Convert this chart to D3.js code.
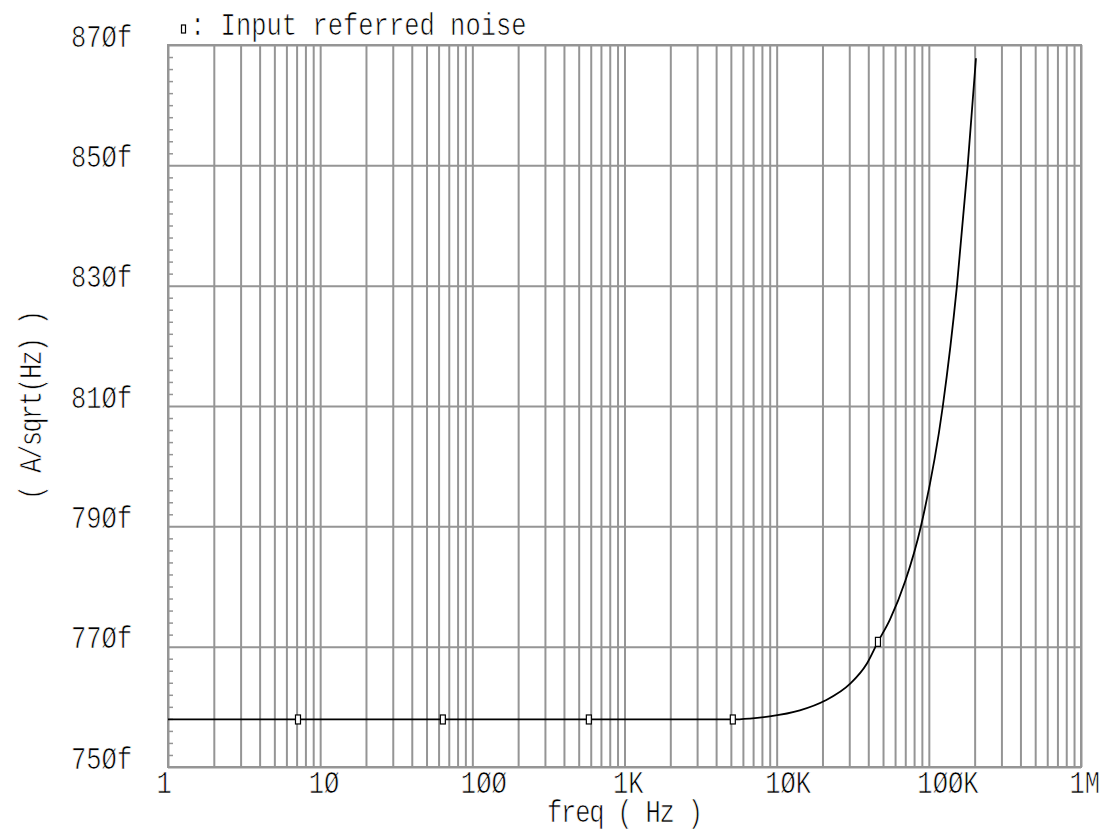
<!DOCTYPE html>
<html>
<head>
<meta charset="utf-8">
<script src="https://cdn.jsdelivr.net/npm/d3@7"></script>
<style>
  body { margin: 0; background: #fff; }
  text {
    font-family: "Liberation Mono", "DejaVu Sans Mono", monospace;
    font-size: 25.5px;
    fill: #000;
    stroke: #fff;
    stroke-width: 0.6px;
  }
</style>
</head>
<body>
<div id="chart"></div>
<script>
// input referred noise sweep, frequency in Hz, noise in fA/sqrt(Hz)
const freqHz = [1, 7.15, 64, 583, 5150, 6670, 9000, 14200, 20700, 30300, 39200, 46300, 55500, 70000, 88500, 123600, 152800, 180000, 204000];
const noiseFA = [757.9, 757.9, 757.9, 757.9, 757.9, 758.05, 758.4, 759.4, 761.0, 763.8, 767.2, 770.8, 774.5, 780.9, 789.9, 810.0, 829.8, 849.9, 867.8];
// which sweep points carry the series marker
const markerIdx = [1, 2, 3, 4, 11];

const xTicks = [1, 10, 100, 1e3, 1e4, 1e5, 1e6];
const xTickLabels = ["1", "1Ø", "1ØØ", "1K", "1ØK", "1ØØK", "1M"];
const yTicks = [750, 770, 790, 810, 830, 850, 870];
const yTickLabels = ["75Øf", "77Øf", "79Øf", "81Øf", "83Øf", "85Øf", "87Øf"];

const W = 1106, H = 833;
const margin = { top: 45, right: 25, bottom: 66, left: 168 };
const width = W - margin.left - margin.right;
const height = H - margin.top - margin.bottom;
const gridColor = "#959595";
const tall = 1.22;   // the plot font is drawn narrow and tall

const svg = d3.select("#chart").append("svg")
  .attr("width", W)
  .attr("height", H);

svg.append("rect").attr("width", W).attr("height", H).attr("fill", "#fff");

const g = svg.append("g")
  .attr("transform", "translate(" + margin.left + "," + margin.top + ")");

const x = d3.scaleLog().domain([1, 1e6]).range([0, width]);
const y = d3.scaleLinear().domain([750, 870]).range([height, 0]);

// vertical grid: 1..9 in every decade
const xGrid = [];
for (let dec = 0; dec < 6; dec++) {
  for (let k = 1; k <= 9; k++) xGrid.push(k * Math.pow(10, dec));
}
xGrid.push(1e6);

g.append("g")
  .attr("transform", "translate(0," + height + ")")
  .call(d3.axisBottom(x).tickValues(xGrid).tickSize(-height).tickFormat(""))
  .call(s => s.select(".domain").remove())
  .selectAll("line")
  .attr("stroke", gridColor)
  .attr("stroke-width", 2);

g.append("g")
  .call(d3.axisLeft(y).tickValues(yTicks).tickSize(-width).tickFormat(""))
  .call(s => s.select(".domain").remove())
  .selectAll("line")
  .attr("stroke", gridColor)
  .attr("stroke-width", 2);

// small ticks every 2f along the left edge
const yMinor = d3.range(752, 870, 2).filter(v => (v - 750) % 20 !== 0);
g.append("g")
  .call(d3.axisRight(y).tickValues(yMinor).tickSize(5).tickFormat(""))
  .call(s => s.select(".domain").remove())
  .selectAll("line")
  .attr("stroke", gridColor)
  .attr("stroke-width", 1.5);

// frame
g.append("rect")
  .attr("width", width)
  .attr("height", height)
  .attr("fill", "none")
  .attr("stroke", gridColor)
  .attr("stroke-width", 2);

// tick labels, left aligned just before each decade line
const xAxis = g.append("g")
  .attr("transform", "translate(0," + height + ")")
  .call(d3.axisBottom(x).tickValues(xTicks).tickSize(0).tickPadding(0)
    .tickFormat((d, i) => xTickLabels[i]));
xAxis.select(".domain").remove();
xAxis.selectAll("text")
  .attr("text-anchor", "start")
  .attr("x", -12)
  .attr("y", 26 / tall)
  .attr("dy", null)
  .attr("transform", "scale(1," + tall + ")");

const yAxis = g.append("g")
  .call(d3.axisLeft(y).tickValues(yTicks).tickSize(0).tickPadding(0)
    .tickFormat((d, i) => yTickLabels[i]));
yAxis.select(".domain").remove();
yAxis.selectAll("text")
  .attr("text-anchor", "start")
  .attr("x", -97)
  .attr("y", 1)
  .attr("dy", null)
  .attr("transform", "scale(1," + tall + ")");

// axis titles
svg.append("text")
  .attr("transform", "translate(625,822) scale(1," + tall + ")")
  .attr("text-anchor", "middle")
  .attr("textLength", 156)
  .attr("lengthAdjust", "spacing")
  .attr("xml:space", "preserve")
  .text("freq ( Hz )");

svg.append("text")
  .attr("transform", "translate(41,405) rotate(-90) scale(1," + tall + ")")
  .attr("text-anchor", "middle")
  .attr("textLength", 190)
  .attr("lengthAdjust", "spacing")
  .attr("xml:space", "preserve")
  .text("( A/sqrt(Hz) )");

// curve
const pts = freqHz.map((f, i) => ({ f: f, v: noiseFA[i] }));
const line = d3.line()
  .x(d => x(d.f))
  .y(d => y(d.v))
  .curve(d3.curveMonotoneX);

g.append("path")
  .datum(pts)
  .attr("fill", "none")
  .attr("stroke", "#000")
  .attr("stroke-width", 1.8)
  .attr("d", line);

g.selectAll(".mk")
  .data(markerIdx.map(i => pts[i]))
  .enter()
  .append("rect")
  .attr("class", "mk")
  .attr("x", d => x(d.f) - 2.5)
  .attr("y", d => y(d.v) - 4.5)
  .attr("width", 5)
  .attr("height", 9)
  .attr("fill", "#fff")
  .attr("stroke", "#000")
  .attr("stroke-width", 1.2);

// legend
svg.append("rect")
  .attr("x", 181.5)
  .attr("y", 25)
  .attr("width", 4)
  .attr("height", 8)
  .attr("fill", "#fff")
  .attr("stroke", "#000")
  .attr("stroke-width", 1.2);

svg.append("text")
  .attr("transform", "translate(190,35) scale(1," + tall + ")")
  .attr("xml:space", "preserve")
  .text(": Input referred noise");
</script>
</body>
</html>
